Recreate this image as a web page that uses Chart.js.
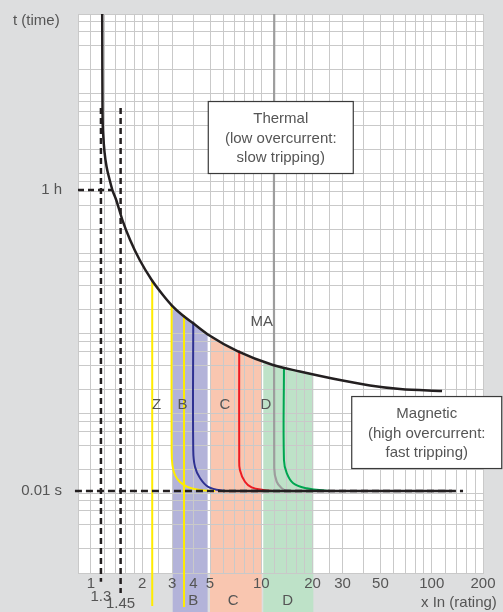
<!DOCTYPE html>
<html><head><meta charset="utf-8">
<script src="https://cdn.jsdelivr.net/npm/chart.js@4"></script>
<style>
html,body{margin:0;padding:0;background:#dddedf;}
#wrap{width:503px;height:612px;position:relative;}
canvas{display:block;}
</style></head><body>
<div id="wrap"><canvas id="c" width="503" height="612"></canvas></div>
<script>
// ================= DATA =================
// x axis: multiples of In (log), y axis: tripping time (log, schematic units)
const xGridTicks = [1,1.2,1.4,1.6,1.8,2,2.5,3,4,5,6,7,8,9,10,12,14,16,18,20,25,30,40,50,60,70,80,90,100,120,140,160,180,200];
const xLabelTicks = [1,2,3,4,5,10,20,30,50,100,200];
const xLabelText = ['1','2','3','4','5','10','20','30','50','100','200'];
const xSubTicks = [1.145, 1.494];
const xSubText = ['1.3', '1.45'];
const yGridMult = [1,2,4,6,8];
const yDecades = [1,10,100,1000,1e4,1e5,1e6];
const yTop = 1e7;
const yLabelTicks = [62500, 10.64];
const yLabelText = ['1 h', '0.01 s'];

// thermal (overload) curve
const thermalX = [1.165,1.167,1.170,1.181,1.202,1.236,1.289,1.337,1.408,1.531,1.699,1.934,2.275,2.647,2.989,3.436,3.986,4.995,7.295,11.70,16.86,28.95,43.43,65.17,115.0];
const thermalY = [1.12e7,2.65e6,6.27e5,3.05e5,1.87e5,1.224e5,8.34e4,6.25e4,4.69e4,2.63e4,1.479e4,8305,4667,3028,2236,1701,1339,934,594,402,334,261,223,201,190];

// magnetic tripping curves
const zLineX = [2.29, 2.29];           const zLineY = [4700, 0.386];
const bLineX = [3.52, 3.52];           const bLineY = [1700, 0.375];
const yellowX = [2.977,2.977,3.009,3.112,3.331,3.710,4.364,5.345];
const yellowY = [2300,34.7,22.5,16.9,13.8,11.9,10.95,10.64];
const blueX = [3.986,3.986,4.08,4.364,4.88,5.98,7.0];
const blueY = [1400,34.7,21.4,15.5,12.0,10.73,10.64];
const redX = [7.42,7.42,7.49,8.02,8.78,10.27,12.0];
const redY = [610,28.6,19.5,13.9,11.8,10.95,10.64];
const maX = [11.91,11.91,12.31,13.17,14.09,16.9];
const maY = [1.12e7,20.6,13.9,11.5,10.73,10.64];
const greenX = [13.58,13.58,14.09,15.40,18.46,24.19,28.9];
const greenY = [380,26.0,17.9,13.3,11.5,10.73,10.64];

// reference lines
const t001DashX = [0.806, 152.7];      const t001DashY = [10.64, 10.64];
const t001SolidX = [5.96, 131.6];      const t001SolidY = [10.64, 10.64];
const oneHourX = [0.84, 1.337];        const oneHourY = [62500, 62500];
const v13X = [1.145, 1.145];           const v13Y = [6.65e5, 0.778];
const v145X = [1.494, 1.494];          const v145Y = [6.65e5, 0.56];

// curve bands B, C, D (top follows thermal curve)
const bandBX = [3.02,3.436,3.986,4.84,4.84,3.02];   const bandBY = [2193,1701,1339,980,0.32,0.32];
const bandCX = [5.00,7.295,10.05,10.05,5.00];        const bandCY = [934,594,457,0.32,0.32];
const bandDX = [10.27,11.70,16.86,20.2,20.2,10.27];  const bandDY = [449,402,334,317,0.32,0.32];

// text labels (data coordinates)
const plotLabels = ['Z','B','C','D','MA','B','C','D'];
const plotLabelX = [2.43,3.45,6.12,10.65,10.05,3.99,6.84,14.3];
const plotLabelY = [127,127,127,127,1390,0.446,0.446,0.446];
const boxLines = [['Thermal','(low overcurrent:','slow tripping)'],['Magnetic','(high overcurrent:','fast tripping)']];
const boxX = [13.01, 93.5];
const boxY = [2.84e5, 57.4];

// ================= STYLE =================
const FONT = '"Liberation Sans", Arial, sans-serif';
const textColor = '#555555';
const gridColor = '#c9c9c9';
const boxSize = [[145,72],[150,72]];
const subLineHeights = [0.95, 1.273];

function pts(xs, ys){ return xs.map((x,i)=>({x:x, y:ys[i]})); }

const yGridTicks = [];
yDecades.forEach(d => yGridMult.forEach(m => yGridTicks.push(m*d)));
yGridTicks.push(yTop);

function line(xs, ys, color, width, extra){
  return Object.assign({data: pts(xs,ys), borderColor: color, borderWidth: width, showLine: true,
    pointRadius: 0, pointHoverRadius: 0, tension: 0.4, fill: false, order: 2}, extra||{});
}
function band(xs, ys, color){
  return {data: pts(xs,ys), band: true, backgroundColor: color, borderWidth: 0, showLine: true,
    pointRadius: 0, tension: 0, fill: false, order: 10, clip: false};
}

const datasets = [
  band(bandBX, bandBY, '#b3b3d9'),
  band(bandCX, bandCY, '#f9c6b0'),
  band(bandDX, bandDY, '#bee2c8'),
  line(zLineX, zLineY, '#ffec00', 2, {tension:0, clip:false, order:3}),
  line(bLineX, bLineY, '#ffec00', 2, {tension:0, clip:false, order:3}),
  line(yellowX, yellowY, '#ffec00', 2),
  line(blueX, blueY, '#2e3192', 2),
  line(redX, redY, '#ed1c24', 2),
  line(maX, maY, '#9d9d9d', 2.2),
  line(greenX, greenY, '#00a651', 2),
  line(thermalX, thermalY, '#231f20', 2.5, {order:1, cubicInterpolationMode:'monotone'}),
  line(t001DashX, t001DashY, '#231f20', 2.5, {tension:0, borderDash:[7,4], clip:false, order:1}),
  line(t001SolidX, t001SolidY, '#231f20', 2.5, {tension:0, order:1}),
  line(oneHourX, oneHourY, '#231f20', 2.5, {tension:0, borderDash:[6,4], clip:false, order:1}),
  line(v13X, v13Y, '#231f20', 2.5, {tension:0, borderDash:[6,4], clip:false, order:1}),
  line(v145X, v145Y, '#231f20', 2.5, {tension:0, borderDash:[6,4], clip:false, order:1})
];

const drawPlugin = {
  id: 'drawPlugin',
  beforeDraw(chart){
    const {ctx, chartArea: a} = chart;
    ctx.save(); ctx.fillStyle = '#ffffff';
    ctx.fillRect(a.left, a.top, a.right-a.left, a.bottom-a.top); ctx.restore();
    chart.$gridDone = false;
  },
  beforeDatasetDraw(chart, args){
    const ds = chart.data.datasets[args.index];
    const ctx = chart.ctx;
    if (ds.band){
      ctx.save(); ctx.beginPath(); args.meta.dataset.path(ctx); ctx.closePath();
      ctx.fillStyle = ds.backgroundColor; ctx.fill(); ctx.restore();
      return false;
    }
    if (!chart.$gridDone){
      chart.$gridDone = true;
      chart.scales.x.drawGrid(chart.chartArea);
      chart.scales.y.drawGrid(chart.chartArea);
    }
  },
  afterDraw(chart){
    const ctx = chart.ctx, sx = chart.scales.x, sy = chart.scales.y;
    ctx.save();
    ctx.font = '15px ' + FONT; ctx.fillStyle = textColor; ctx.textBaseline = 'middle';
    ctx.textAlign = 'left';
    ctx.fillText('t (time)', 13, 20.5);
    ctx.fillText('x In (rating)', 421, 602.5);
    ctx.textAlign = 'center';
    plotLabels.forEach((s,i)=>{
      ctx.fillText(s, sx.getPixelForValue(plotLabelX[i]), sy.getPixelForValue(plotLabelY[i]));
    });
    boxLines.forEach((lines,i)=>{
      const cx = sx.getPixelForValue(boxX[i]), cy = sy.getPixelForValue(boxY[i]);
      const w = boxSize[i][0], h = boxSize[i][1];
      ctx.fillStyle = '#ffffff';
      ctx.fillRect(cx-w/2, cy-h/2, w, h);
      ctx.strokeStyle = '#3a3a3a'; ctx.lineWidth = 1.2;
      ctx.strokeRect(cx-w/2, cy-h/2, w, h);
      ctx.fillStyle = textColor;
      lines.forEach((s,j)=> ctx.fillText(s, cx, cy + 1 + (j-1)*19.5));
    });
    ctx.restore();
  }
};

const xAllTicks = xGridTicks.concat(xSubTicks);
const yAllTicks = yGridTicks.concat(yLabelTicks);
function noPad(s){ s.paddingTop = 0; s.paddingBottom = 0; s.paddingLeft = 0; s.paddingRight = 0; }

new Chart(document.getElementById('c'), {
  type: 'scatter',
  data: {datasets: datasets},
  plugins: [drawPlugin],
  options: {
    responsive: false, animation: false, devicePixelRatio: 1,
    layout: {padding: {top: 14, right: 20, left: 0, bottom: 0}},
    plugins: {legend: {display: false}, tooltip: {enabled: false}},
    scales: {
      x: {
        type: 'logarithmic', min: 0.84, max: 200, position: 'bottom',
        afterBuildTicks: s => { s.ticks = xAllTicks.map(v => ({value: v})); },
        afterFit: s => { s.height = 39; noPad(s); },
        grid: {drawTicks: false, lineWidth: 1,
          color: c => (c.tick && xSubTicks.includes(c.tick.value)) ? 'rgba(0,0,0,0)' : gridColor},
        border: {display: true, color: gridColor, width: 1},
        ticks: {
          z: 1, autoSkip: false, maxRotation: 0, minRotation: 0, padding: 2, color: textColor,
          font: c => {
            const k = c.tick ? xSubTicks.indexOf(c.tick.value) : -1;
            return {family: FONT, size: 15, lineHeight: k >= 0 ? subLineHeights[k] : 1.2};
          },
          callback: v => {
            const i = xLabelTicks.indexOf(v); if (i >= 0) return xLabelText[i];
            const k = xSubTicks.indexOf(v); if (k >= 0) return ['', xSubText[k]];
            return '';
          }
        }
      },
      y: {
        type: 'logarithmic', min: 1, max: yTop, position: 'left',
        afterBuildTicks: s => { s.ticks = yAllTicks.map(v => ({value: v})); },
        afterFit: s => { s.width = 78; noPad(s); },
        grid: {drawTicks: false, lineWidth: 1,
          color: c => (c.tick && yLabelTicks.includes(c.tick.value)) ? 'rgba(0,0,0,0)' : gridColor},
        border: {display: true, color: gridColor, width: 1},
        ticks: {
          autoSkip: false, padding: 16, color: textColor, font: {family: FONT, size: 15},
          callback: v => { const i = yLabelTicks.indexOf(v); return i >= 0 ? yLabelText[i] : ''; }
        }
      }
    }
  }
});
</script>
</body></html>
